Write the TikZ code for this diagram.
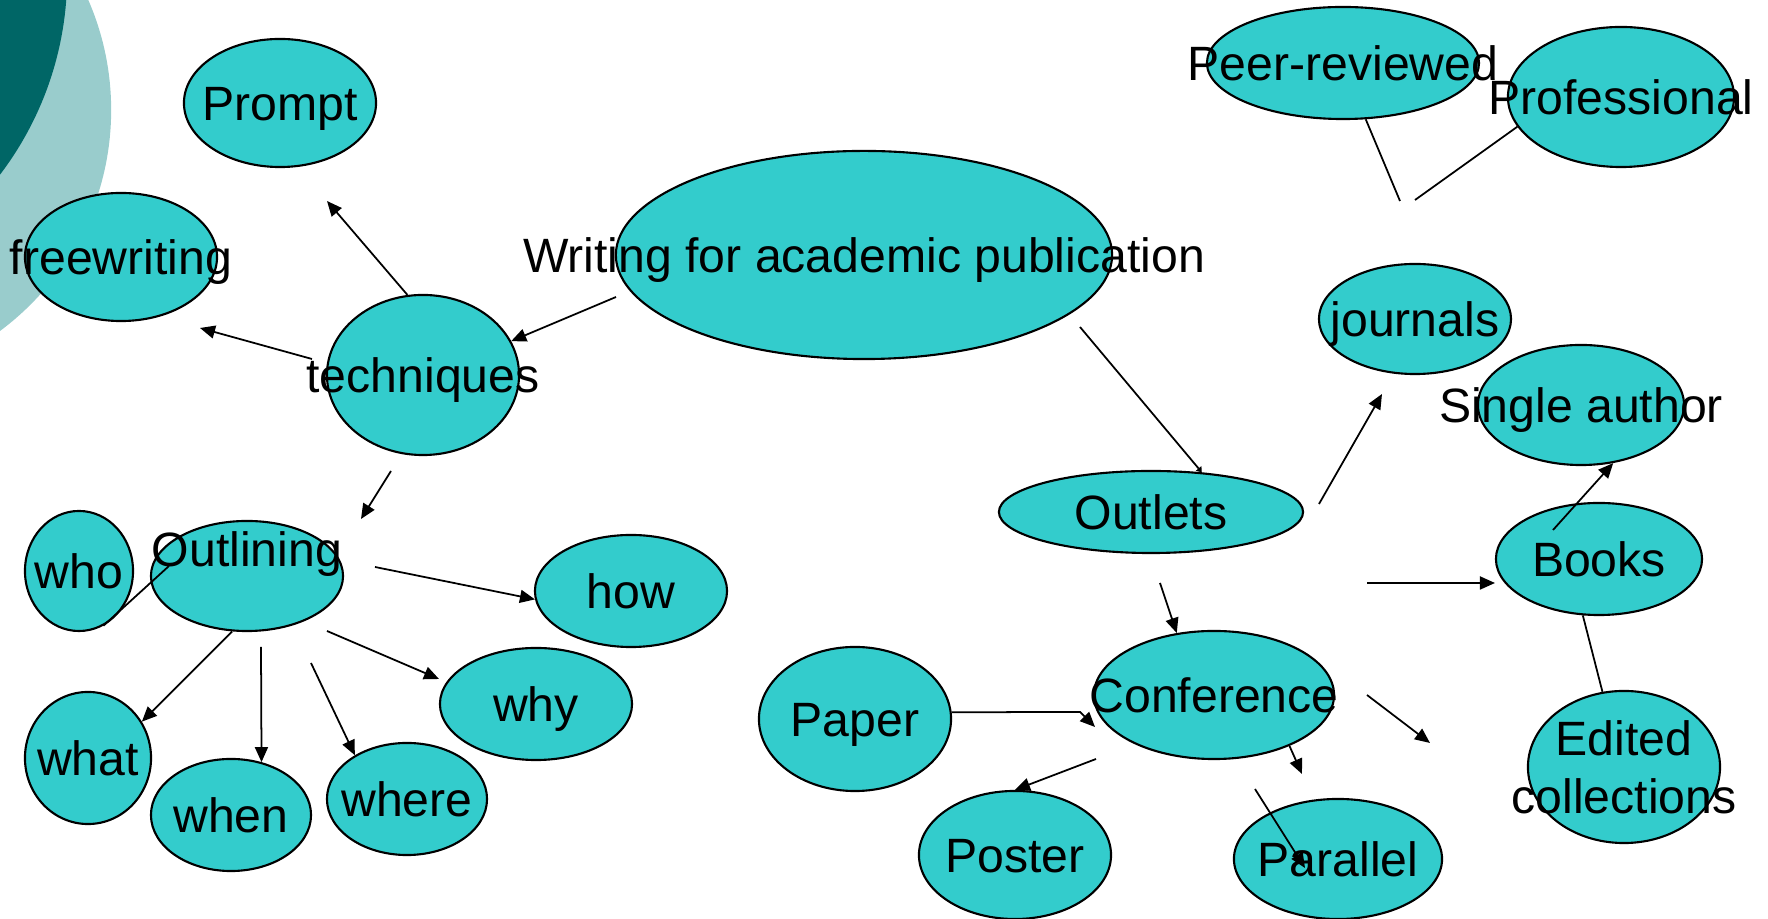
\documentclass[tikz,border=0pt]{standalone}
\usepackage{fontspec}
\setmainfont{Liberation Sans}
\usepackage{tikz}
\usetikzlibrary{shapes.geometric, arrows.meta}
\definecolor{bubblefill}{HTML}{33CCCC}
\definecolor{darkring}{HTML}{006666}
\definecolor{lightring}{HTML}{99CCCC}

\begin{document}
\begin{tikzpicture}[
    x=0.01cm, y=-0.01cm,
    font=\fontsize{13.7pt}{16.5pt}\selectfont,
    bubble/.style={ellipse, draw, line width=0.6pt, fill=bubblefill, inner sep=0pt},
    word/.style={inner sep=0pt, text height=12.5pt, text depth=2.3pt},
    arrow/.style={-{Triangle[length=0.15cm, width=0.13cm]}, line width=0.5pt},
    tinyarrow/.style={-{Triangle[length=0.05cm, width=0.07cm]}, line width=0.5pt},
    link/.style={line width=0.5pt}
]
    \useasboundingbox (0,0) rectangle (1768,919);

    % slide decoration
    \begin{scope}
        \clip (0,0) rectangle (1768,919);
        \fill[lightring] (-164,110) circle[radius=2.75cm];
        \fill[darkring] (-263,-25) circle[radius=3.3cm];
    \end{scope}

    % techniques side
    \node[bubble, minimum width=1.92cm, minimum height=1.28cm, label={[word]center:Prompt}] (prompt) at (280,103) {};
    \node[bubble, minimum width=1.92cm, minimum height=1.28cm, label={[word]center:freewriting}] (freew) at (121,257) {};
    \node[bubble, minimum width=1.92cm, minimum height=1.60cm, label={[word]center:techniques}] (techniques) at (423,375) {};
    \node[bubble, minimum width=4.96cm, minimum height=2.08cm, label={[word]center:Writing for academic publication}] (writing) at (864,255) {};
    \node[bubble, minimum width=1.08cm, minimum height=1.20cm, label={[word]center:who}] (who) at (79,571) {};
    \node[bubble, minimum width=1.92cm, minimum height=1.10cm, label={[word, yshift=0.27cm]center:Outlining}] (outlining) at (247,576) {};
    \node[bubble, minimum width=1.92cm, minimum height=1.12cm, label={[word]center:how}] (how) at (631,591) {};
    \node[bubble, minimum width=1.92cm, minimum height=1.12cm, label={[word]center:why}] (why) at (536,704) {};
    \node[bubble, minimum width=1.26cm, minimum height=1.32cm, label={[word]center:what}] (what) at (88,758) {};
    \node[bubble, minimum width=1.60cm, minimum height=1.12cm, label={[word]center:when}] (when) at (231,815) {};
    \node[bubble, minimum width=1.60cm, minimum height=1.12cm, label={[word]center:where}] (where) at (407,799) {};

    % outlets side
    \node[bubble, minimum width=3.04cm, minimum height=0.82cm, label={[word]center:Outlets}] (outlets) at (1151,512) {};
    \node[bubble, minimum width=2.72cm, minimum height=1.12cm, label={[word]center:Peer-reviewed}] (peer) at (1343,63) {};
    \node[bubble, minimum width=2.26cm, minimum height=1.40cm, label={[word]center:Professional}] (profess) at (1621,97) {};
    \node[bubble, minimum width=1.92cm, minimum height=1.10cm, label={[word]center:journals}] (journals) at (1415,319) {};
    \node[bubble, minimum width=2.06cm, minimum height=1.20cm, label={[word]center:Single author}] (single) at (1581,405) {};
    \node[bubble, minimum width=2.06cm, minimum height=1.12cm, label={[word]center:Books}] (books) at (1599,559) {};
    \node[bubble, minimum width=1.92cm, minimum height=1.52cm, label={[align=center, inner sep=0pt]center:Edited\\collections}] (edited) at (1624,767) {};
    \node[bubble, minimum width=2.40cm, minimum height=1.28cm, label={[word]center:Conference}] (conference) at (1214,695) {};
    \node[bubble, minimum width=1.92cm, minimum height=1.44cm, label={[word]center:Paper}] (paper) at (855,719) {};
    \node[bubble, minimum width=1.92cm, minimum height=1.28cm, label={[word]center:Poster}] (poster) at (1015,855) {};
    \node[bubble, minimum width=2.08cm, minimum height=1.20cm, label={[word]center:Parallel}] (parallel) at (1338,859) {};

    % loose ends of the connectors
    \coordinate (w-tech) at (616,297);
    \coordinate (p-prompt) at (327,201);
    \coordinate (t-left) at (312,359);
    \coordinate (p-free) at (200,328);
    \coordinate (t-low) at (391,471);
    \coordinate (p-outl) at (361,519);
    \coordinate (o-who) at (169,566);
    \coordinate (o-how) at (375,567);
    \coordinate (o-why) at (327,631);
    \coordinate (p-why) at (439,679);
    \coordinate (o-where) at (311,663);
    \coordinate (o-when) at (261,647);
    \coordinate (w-out) at (1080,327);
    \coordinate (ou-jn) at (1319,504);
    \coordinate (p-jn) at (1382,394);
    \coordinate (ou-bk) at (1367,583);
    \coordinate (p-bk) at (1495,583);
    \coordinate (ou-cf) at (1160,583);
    \coordinate (cf-e) at (1367,695);
    \coordinate (p-cf) at (1430,743);
    \coordinate (bk-in) at (1553,530);
    \coordinate (p-peer) at (1400,201);
    \coordinate (p-prof) at (1415,200);
    \coordinate (pa-bend) at (1080,712);
    \coordinate (p-conf) at (1095,727);
    \coordinate (cf-sw) at (1096,759);
    \coordinate (p-par) at (1302,774);
    \coordinate (par-in0) at (1255,789);
    \coordinate (par-in) at (1305,868);

    \draw[arrow] (w-tech) -- (techniques.21);
    \draw[arrow] (techniques.101) -- (p-prompt);
    \draw[arrow] (t-left) -- (p-free);
    \draw[arrow] (t-low) -- (p-outl);
    \draw[link] (o-who) -- (who.-66);
    \draw[arrow] (o-how) -- (how.185);
    \draw[arrow] (o-why) -- (p-why);
    \draw[arrow] (o-where) -- (where.140);
    \draw[arrow] (o-when) -- (when.60);
    \draw[arrow] (outlining.255) -- (what.34);

    \draw[tinyarrow] (w-out) -- (outlets.38);
    \draw[arrow] (ou-jn) -- (p-jn);
    \draw[arrow] (ou-bk) -- (p-bk);
    \draw[arrow] (ou-cf) -- (conference.121);
    \draw[arrow] (cf-e) -- (p-cf);
    \draw[arrow] (bk-in) -- (single.-61);
    \draw[link] (books.-106) -- (edited.106);
    \draw[link] (peer.-68) -- (p-peer);
    \draw[link] (profess.196) -- (p-prof);
    \draw[arrow] (paper.4) -- (pa-bend) -- (p-conf);
    \draw[arrow] (cf-sw) -- (poster.north);
    \draw[arrow] (conference.-34) -- (p-par);
    \draw[arrow] (par-in0) -- (par-in);
\end{tikzpicture}
\end{document}
